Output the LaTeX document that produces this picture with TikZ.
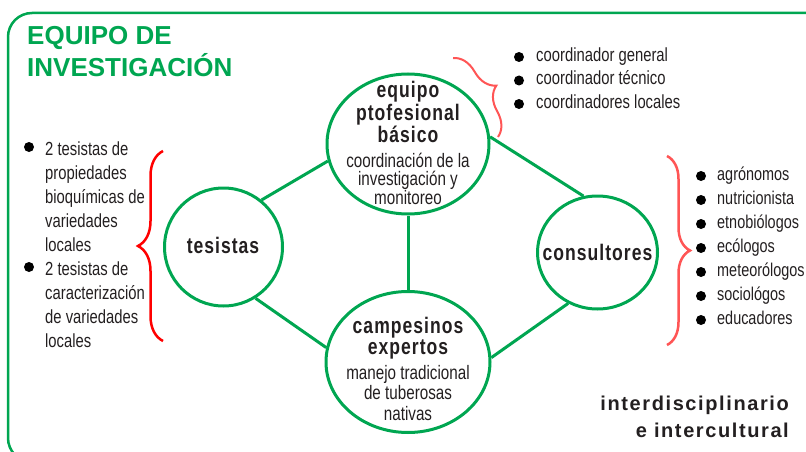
\documentclass[tikz,border=0pt]{standalone}
\usepackage{fontspec}
\setmainfont{Liberation Sans}
\newfontfamily\narrowfont[FakeStretch=0.78]{Liberation Sans}
\newfontfamily\spacedfont[FakeStretch=0.78,LetterSpace=4.5]{Liberation Sans}
\newfontfamily\widefont[LetterSpace=8]{Liberation Sans}
\usepackage{tikz}
\usetikzlibrary{positioning}
\usetikzlibrary{shapes,decorations.pathreplacing}
\definecolor{eqgreen}{RGB}{0,166,81}
\definecolor{ink}{RGB}{35,31,32}
\definecolor{softred}{RGB}{255,85,85}

\begin{document}
\begin{tikzpicture}[x=1pt,y=-1pt,
ring/.style={draw=eqgreen,line width=3pt,ellipse,inner sep=0pt},
link/.style={draw=eqgreen,line width=3pt},
head/.style={font=\spacedfont\bfseries\fontsize{22.5}{#1}\selectfont,text=ink,align=center,inner sep=0pt,anchor=north},
note/.style={font=\narrowfont\fontsize{19.5}{#1}\selectfont,text=ink,align=center,inner sep=0pt,anchor=north},
item/.style={font=\narrowfont\fontsize{19}{#1}\selectfont,text=ink,align=left,inner sep=0pt,anchor=north west},
dot/.style={circle,fill=black,inner sep=0pt,minimum size=10pt},
curly/.style={decorate,decoration={brace,amplitude=#1},line width=2.5pt}]
\useasboundingbox (0,0) rectangle (806,452);
\draw[eqgreen,line width=2.5pt,rounded corners=24pt] (8,13) rectangle (840,462);
\node[font=\bfseries\fontsize{26}{32}\selectfont,text=eqgreen,align=left,anchor=north west,inner sep=0pt] (title) at (27,26.5) {EQUIPO DE\\INVESTIGACIÓN};
% circles
\node[ring,minimum width=162pt,minimum height=140pt] (top) at (408,144) {};
\node[ring,minimum width=164pt,minimum height=141pt] (farm) at (408,362) {};
\node[ring,minimum size=118pt] (tes) at (223.5,247) {};
\node[ring,minimum width=120pt,minimum height=113pt] (cons) at (597.5,252.5) {};
\draw[link] (tes.51) -- (top.192);
\draw[link] (top.5) -- (cons.104);
\draw[link] (top.south) -- (farm.north);
\draw[link] (tes.-58) -- (farm.170);
\draw[link] (farm.3) -- (cons.240);
% texts in the circles
\node[head=22.5] (topHead) at (408,81) {equipo\\ptofesional\\básico};
\node[note=18] (topNote) at (408,153) {coordinación de la\\investigación y\\monitoreo};
\node[head=21] (farmHead) at (408,316.5) {campesinos\\expertos};
\node[note=20.5] (farmNote) at (408,365) {manejo tradicional\\de tuberosas\\nativas};
\node[head=20,anchor=base] (tesHead) at (223,253) {tesistas};
\node[head=20,anchor=base] (consHead) at (597.5,260) {consultores};
% lists
\node[dot] (d1) at (29,147) {};
\node[item=24] (t1) at (45,141.3) {2 tesistas de\\propiedades\\bioquímicas de\\variedades\\locales};
\node[dot] (d2) at (29,267) {};
\node[item=24] (t2) at (45,261.3) {2 tesistas de\\caracterización\\de variedades\\locales};
\draw[curly=25,red] (163,341) -- (163,151);
\node[dot] (c1) at (519,57) {};
\node[dot] (c2) at (519,80.5) {};
\node[dot] (c3) at (519,104) {};
\node[item=23.5] (coord) at (536,47.3) {coordinador general\\coordinador técnico\\coordinadores locales};
\draw[curly=24,softred,line width=2pt] (453,58) -- (498,137);
\foreach \y [count=\i] in {176,200,224,248,272,296,320}
  \node[dot] (e\i) at (701,\y) {};
\node[item=24,font=\narrowfont\fontsize{18.5}{24}\selectfont] (experts) at (717,166.6) {agrónomos\\nutricionista\\etnobiólogos\\ecólogos\\meteorólogos\\sociológos\\educadores};
\draw[curly=23,softred] (667,156) -- (667,345);
\node[font=\widefont\bfseries\fontsize{20}{27}\selectfont,text=ink,align=right,anchor=north east,inner sep=0pt] (tag) at (789,395.7) {interdisciplinario\\e intercultural};
\end{tikzpicture}
\end{document}
